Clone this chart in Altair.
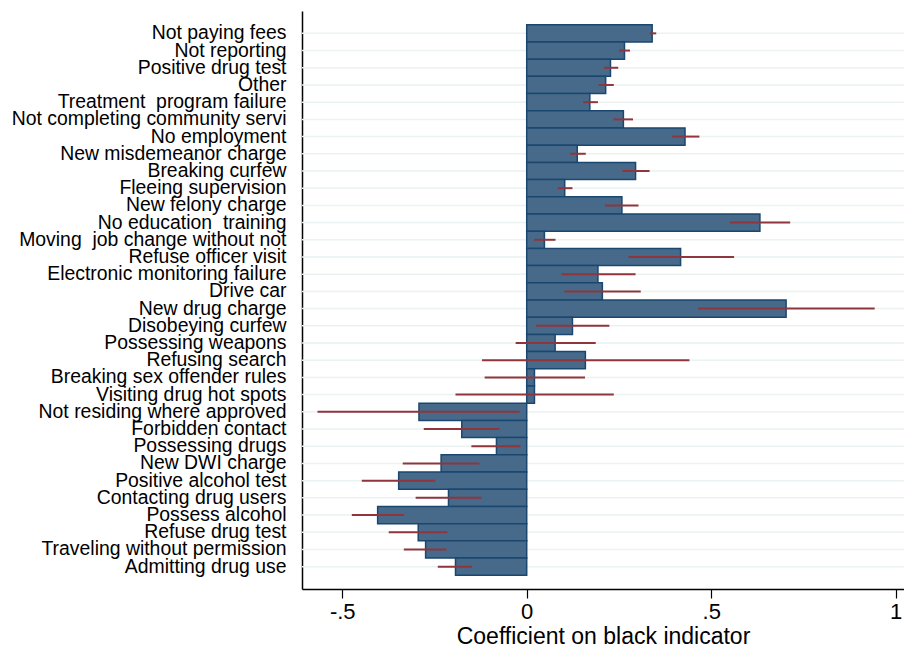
import altair as alt
import pandas as pd

categories = [
    "Not paying fees", "Not reporting", "Positive drug test", "Other",
    "Treatment \u00a0program failure", "Not completing community servi",
    "No employment", "New misdemeanor charge", "Breaking curfew",
    "Fleeing supervision", "New felony charge", "No education \u00a0training",
    "Moving \u00a0job change without not", "Refuse officer visit",
    "Electronic monitoring failure", "Drive car", "New drug charge",
    "Disobeying curfew", "Possessing weapons", "Refusing search",
    "Breaking sex offender rules", "Visiting drug hot spots",
    "Not residing where approved", "Forbidden contact", "Possessing drugs",
    "New DWI charge", "Positive alcohol test", "Contacting drug users",
    "Possess alcohol", "Refuse drug test", "Traveling without permission",
    "Admitting drug use",
]
coef = [0.340, 0.265, 0.227, 0.214, 0.171, 0.262, 0.429, 0.137, 0.295, 0.103,
        0.258, 0.632, 0.048, 0.417, 0.193, 0.205, 0.703, 0.124, 0.077, 0.159,
        0.021, 0.021, -0.292, -0.176, -0.082, -0.232, -0.347, -0.212, -0.404,
        -0.294, -0.274, -0.193]
ci_low = [0.333, 0.250, 0.209, 0.195, 0.153, 0.235, 0.394, 0.118, 0.259, 0.084,
          0.212, 0.551, 0.020, 0.276, 0.094, 0.102, 0.465, 0.025, -0.030, -0.121,
          -0.114, -0.193, -0.567, -0.279, -0.150, -0.336, -0.447, -0.301, -0.474,
          -0.374, -0.333, -0.241]
ci_high = [0.351, 0.280, 0.248, 0.236, 0.193, 0.288, 0.468, 0.160, 0.333, 0.124,
           0.303, 0.714, 0.078, 0.562, 0.295, 0.309, 0.943, 0.224, 0.187, 0.441,
           0.158, 0.236, -0.019, -0.074, -0.017, -0.128, -0.248, -0.123, -0.332,
           -0.215, -0.217, -0.148]
x_ticks = [-0.5, 0, 0.5, 1]
x_tick_labels = ["-.5", "0", ".5", "1"]

df = pd.DataFrame({"cat": categories, "coef": coef, "lo": ci_low, "hi": ci_high})

FONT = "Liberation Sans"
W, H = 602, 578

label_expr = " : ".join(
    f"datum.value == {v} ? '{t}'" for v, t in zip(x_ticks, x_tick_labels)
) + " : ''"

yscale = alt.Scale(paddingInner=0, paddingOuter=0.8)
xscale = alt.Scale(domain=[-0.609, 1.0225], nice=False, zero=False)

y_enc = alt.Y("cat:N", sort=categories, scale=yscale,
              axis=alt.Axis(title=None, ticks=False, grid=False, labelPadding=16,
                            labelFontSize=19.4, labelFont=FONT, labelColor="black",
                            domainColor="black", domainWidth=1.5, labelLimit=400,
                            labelOverlap=False))
x_enc = alt.X("coef:Q", scale=xscale,
              axis=alt.Axis(title="Coefficient on black indicator", values=x_ticks,
                            labelExpr=label_expr,
                            grid=False, tickSize=9, tickColor="black", tickWidth=1.2,
                            domainColor="black", domainWidth=1.5,
                            labelFontSize=22, labelFont=FONT, labelColor="black",
                            labelPadding=3, titleFontSize=23, titleFont=FONT,
                            titleFontWeight="normal", titleColor="black", titlePadding=3))

base = alt.Chart(df)

grid = base.mark_rule(color="#eaf2f3", strokeWidth=1.5).encode(y=y_enc)

bars = base.mark_bar(fill="#476a8a", stroke="#1a476f", strokeWidth=1.5,
                     cornerRadius=0).encode(
    y=y_enc, x=x_enc, x2=alt.datum(0))

err = base.mark_rule(color="#90353b", strokeWidth=2).encode(
    y=y_enc, x=alt.X("lo:Q", scale=xscale), x2="hi:Q")

chart = alt.layer(grid, bars, err).properties(
    width=W, height=H,
    autosize=alt.AutoSizeParams(type="none"),
    padding={"left": 302, "top": 11, "right": 0, "bottom": 65},
    background="white",
).configure_view(strokeWidth=0)

chart.save("out.html", embed_options={"renderer": "svg", "actions": False})
